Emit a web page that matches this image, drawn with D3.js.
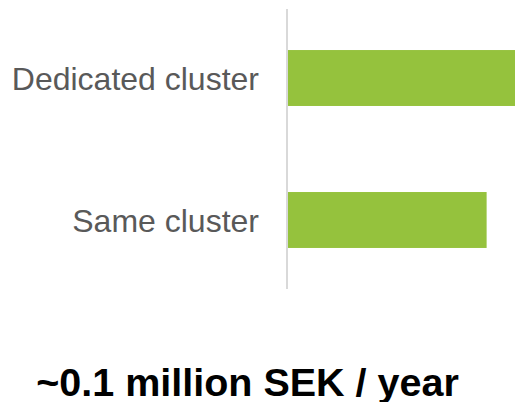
<!DOCTYPE html>
<html>
<head>
<meta charset="utf-8">
<script src="https://cdn.jsdelivr.net/npm/d3@7"></script>
<style>
  body { margin: 0; background: #fff; }
  svg { display: block; }
</style>
</head>
<body>
<div id="chart"></div>
<script>
// Data (relative cost)
var categories = ["Dedicated cluster", "Same cluster"];
var values = [0.8, 0.7];
var caption = "~0.1 million SEK / year";

var width = 515,
  height = 402;

var svg = d3.select("#chart")
  .append("svg")
  .attr("width", width)
  .attr("height", height);

var data = categories.map(function(c, i) { return { name: c, value: values[i] }; });

// scales
var x = d3.scaleLinear()
  .domain([0, d3.max(values)])
  .range([288, 515]);

var y = d3.scaleBand()
  .domain(categories)
  .range([9, 289])
  .paddingInner(0.606)
  .paddingOuter(0.289);

// bars
svg.selectAll(".bar")
  .data(data)
  .enter().append("rect")
  .attr("class", "bar")
  .attr("x", x(0))
  .attr("y", function(d) { return y(d.name); })
  .attr("width", function(d) { return x(d.value) - x(0); })
  .attr("height", y.bandwidth())
  .style("fill", "#95c23d");

// vertical axis line (no ticks)
var yAxis = d3.axisLeft(y).tickSize(0).tickPadding(28);
var gAxis = svg.append("g")
  .attr("transform", "translate(" + (x(0) - 1) + ",0)")
  .call(yAxis);

gAxis.select(".domain")
  .attr("d", "M0," + y.range()[0] + "V" + y.range()[1])
  .style("stroke", "#d9d9d9")
  .style("stroke-width", 2);

gAxis.selectAll("text")
  .attr("dy", "0.36em")
  .style("fill", "#595959")
  .style("font-family", "Liberation Sans, Arial, sans-serif")
  .style("font-size", "32px");

// caption
svg.append("text")
  .attr("x", 247.5)
  .attr("y", 396)
  .style("text-anchor", "middle")
  .style("font-family", "Liberation Sans, Arial, sans-serif")
  .style("font-weight", "bold")
  .style("font-size", "39.5px")
  .style("fill", "#000")
  .text(caption);
</script>
</body>
</html>
